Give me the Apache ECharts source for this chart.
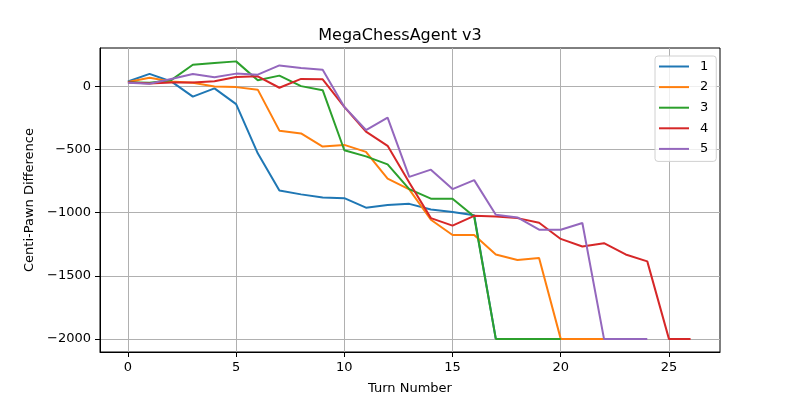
<!DOCTYPE html>
<html>
<head>
<meta charset="utf-8">
<script src="https://cdn.jsdelivr.net/npm/echarts@6/dist/echarts.min.js"></script>
<style>html,body{margin:0;padding:0;background:#fff}#c{width:800px;height:400px}</style>
</head>
<body>
<div id="c"></div>
<script>
const seriesNames = ['1', '2', '3', '4', '5'];
const colors = ['#1f77b4', '#ff7f0e', '#2ca02c', '#d62728', '#9467bd'];
const game1 = [40, 100, 40, -80, -15, -140, -530, -825, -855, -880, -885, -960, -940, -930, -975, -995, -1020, -2000];
const game2 = [35, 70, 40, 30, 0, -5, -25, -350, -372, -476, -463, -518, -730, -815, -1056, -1177, -1177, -1331, -1375, -1360, -2000, -2000, -2000];
const game3 = [34, 29, 50, 172, 186, 199, 50, 86, 3, -29, -505, -554, -617, -813, -889, -889, -1030, -2000, -2000, -2000, -2000];
const game4 = [34, 24, 31, 31, 42, 76, 81, -10, 60, 57, -162, -358, -470, -760, -1043, -1103, -1025, -1030, -1043, -1080, -1208, -1268, -1242, -1331, -1386, -2000, -2000];
const game5 = [29, 21, 60, 99, 73, 102, 94, 167, 146, 133, -162, -345, -246, -716, -659, -813, -742, -1017, -1038, -1135, -1135, -1082, -2000, -2000, -2000];
const xTicks = [0, 5, 10, 15, 20, 25];
const yTicks = [-2000, -1500, -1000, -500, 0];
const allGames = [game1, game2, game3, game4, game5];

const font = 'DejaVu Sans';
const chart = echarts.init(document.getElementById('c'), null, {renderer: 'canvas'});
chart.setOption({
  animation: false,
  backgroundColor: '#fff',
  title: {
    text: 'MegaChessAgent v3', left: 'center', top: 23,
    textStyle: {fontFamily: font, fontSize: 16, fontWeight: 'normal', color: '#000'}
  },
  legend: {
    orient: 'vertical', left: 655, top: 56,
    padding: [4, 8, 6, 4], itemGap: 7.6, itemWidth: 30, itemHeight: 2,
    icon: 'rect',
    borderColor: '#d0d0d0', borderWidth: 1, borderRadius: 3,
    backgroundColor: 'rgba(255,255,255,0.8)',
    textStyle: {fontFamily: font, fontSize: 13, color: '#000', padding: [0, 0, 0, 6]},
    data: seriesNames
  },
  grid: {left: 100, right: 80, top: 48, bottom: 44, show: true, borderColor: '#000', borderWidth: 1, containLabel: false},
  xAxis: {
    type: 'value', min: -1.29, max: 27.36,
    name: 'Turn Number', nameLocation: 'middle', nameGap: 30,
    nameTextStyle: {fontFamily: font, fontSize: 13, color: '#000'},
    axisLine: {show: true, onZero: false, lineStyle: {color: '#000', width: 1}},
    axisTick: {show: true, inside: false, length: 5, lineStyle: {color: '#000'}, customValues: xTicks},
    axisLabel: {fontFamily: font, fontSize: 13, color: '#000', margin: 9, customValues: xTicks},
    splitLine: {show: true, lineStyle: {color: '#b0b0b0', width: 1}}
  },
  yAxis: {
    type: 'value', min: -2104, max: 305,
    name: 'Centi-Pawn Difference', nameLocation: 'middle', nameGap: 64, nameRotate: 90,
    nameTextStyle: {fontFamily: font, fontSize: 13, color: '#000'},
    axisLine: {show: true, onZero: false, lineStyle: {color: '#000', width: 1}},
    axisTick: {show: true, inside: false, length: 5, lineStyle: {color: '#000'}, customValues: yTicks},
    axisLabel: {fontFamily: font, fontSize: 13, color: '#000', margin: 9, customValues: yTicks,
      formatter: v => (v < 0 ? '\u2212' + Math.abs(v) : String(v))},
    splitLine: {show: true, lineStyle: {color: '#b0b0b0', width: 1}}
  },
  series: allGames.map((g, i) => ({
    name: seriesNames[i], type: 'line', symbol: 'none',
    color: colors[i],
    lineStyle: {width: 2, color: colors[i]},
    data: g.map((v, t) => [t, v])
  }))
});
</script>
</body>
</html>
